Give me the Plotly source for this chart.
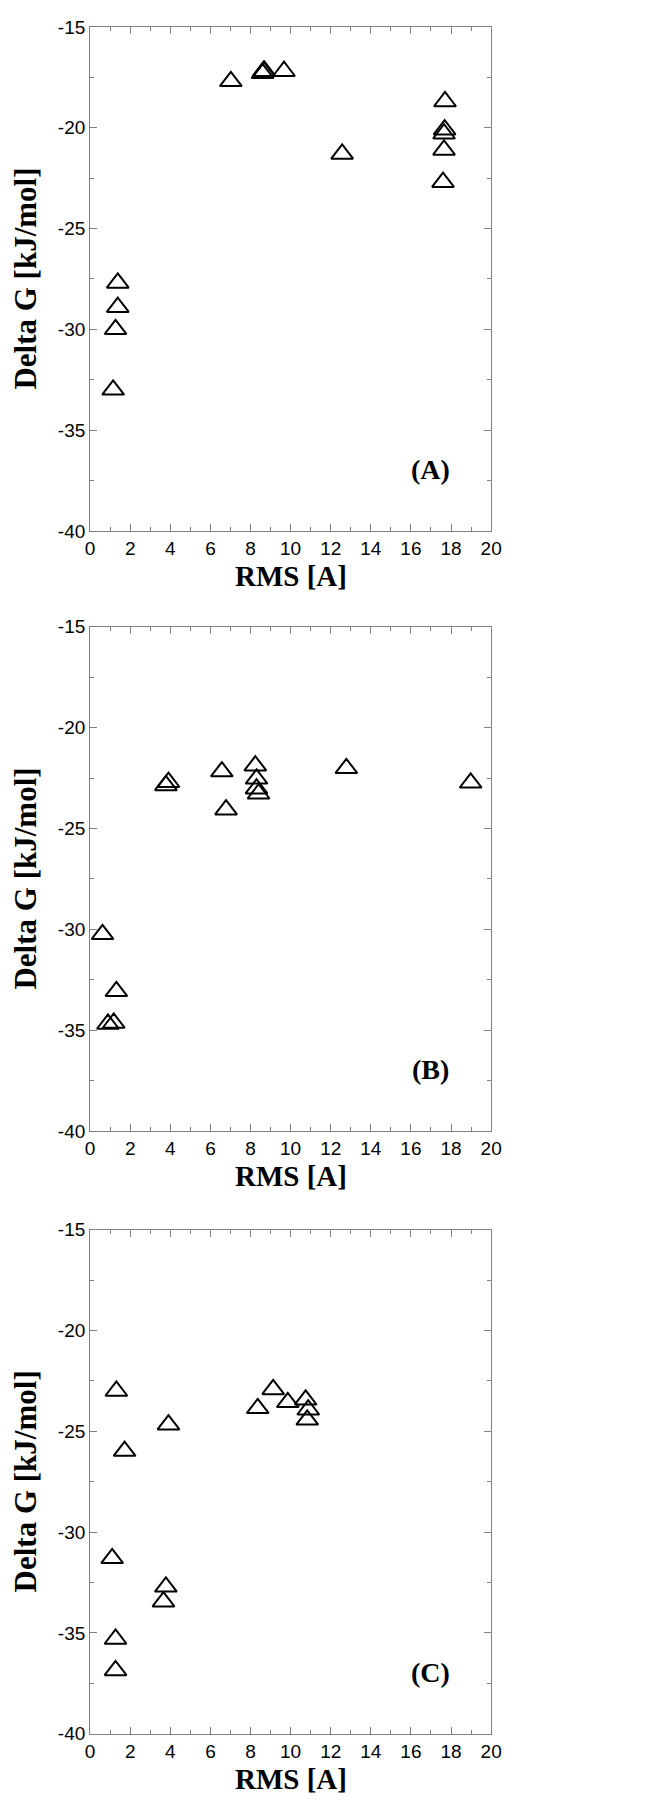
import plotly.graph_objects as go

# Panel data: RMS [A] vs Delta G [kJ/mol]
rms_a = [1.15, 1.27, 1.38, 1.38, 7.02, 8.6, 8.65, 8.7, 9.67, 12.57, 17.6, 17.65, 17.65, 17.68, 17.7]
dg_a = [-33.0, -30.0, -28.9, -27.7, -17.7, -17.3, -17.2, -17.2, -17.2, -21.3, -22.7, -21.1, -20.3, -20.1, -18.7]

rms_b = [0.62, 0.89, 1.18, 1.31, 3.78, 3.91, 6.57, 6.78, 8.24, 8.3, 8.3, 8.4, 12.78, 18.98]
dg_b = [-30.25, -34.7, -34.65, -33.08, -22.87, -22.71, -22.18, -24.07, -21.89, -22.54, -23.03, -23.28, -22.02, -22.74]

rms_c = [1.10, 1.27, 1.27, 1.31, 1.72, 3.66, 3.78, 3.91, 8.36, 9.13, 9.86, 10.75, 10.88, 10.83]
dg_c = [-31.3, -35.3, -36.86, -23.0, -25.98, -33.45, -32.71, -24.67, -23.86, -22.92, -23.56, -23.44, -23.93, -24.43]

x_ticks = [0, 2, 4, 6, 8, 10, 12, 14, 16, 18, 20]
y_ticks = [-40, -35, -30, -25, -20, -15]

panel_labels = ["(A)", "(B)", "(C)"]
x_title = "RMS [A]"
y_title = "Delta G [kJ/mol]"

W, H = 661, 1800
left, right = 79, 490
tops = [9, 616, 1226]
bottoms = [519, 1126, 1736]

fig = go.Figure()

panels = [(rms_a, dg_a), (rms_b, dg_b), (rms_c, dg_c)]
for i, (xs, ys) in enumerate(panels):
    n = "" if i == 0 else str(i + 1)
    fig.add_trace(go.Scatter(
        x=xs, y=ys, mode="markers", xaxis="x" + n, yaxis="y" + n,
        marker=dict(symbol="triangle-up-open", size=19, color="black",
                    line=dict(width=2, color="black")),
        showlegend=False, hoverinfo="x+y"))

axis_common = dict(
    showgrid=False, zeroline=False, showline=True, linecolor="#808080", linewidth=1,
    mirror="ticks", ticks="inside", ticklen=7, tickwidth=1, tickcolor="#808080",
    tickfont=dict(family="Liberation Sans, Arial, sans-serif", size=19, color="black"),
)

layout = dict(width=W, height=H, margin=dict(l=0, r=0, t=0, b=0),
              paper_bgcolor="white", plot_bgcolor="white", annotations=[])

for i in range(3):
    n = "" if i == 0 else str(i + 1)
    y0 = 1 - bottoms[i] / H
    y1 = 1 - tops[i] / H
    layout["xaxis" + n] = dict(
        axis_common, domain=[left / W, right / W], range=[0, 20],
        tickmode="array", tickvals=x_ticks, ticktext=[str(v) for v in x_ticks],
        anchor="y" + n,
        minor=dict(ticks="inside", dtick=1, ticklen=4, tickcolor="#808080"))
    layout["yaxis" + n] = dict(
        axis_common, domain=[y0, y1], range=[-40, -15],
        tickmode="array", tickvals=y_ticks, ticktext=[str(v) for v in y_ticks],
        anchor="x" + n,
        minor=dict(ticks="inside", tick0=-40, dtick=2.5, ticklen=4, tickcolor="#808080"))

    # x title
    layout["annotations"].append(dict(
        text="<b>" + x_title + "</b>", xref="paper", yref="paper",
        x=(left + right) / 2 / W, y=1 - (bottoms[i] + 46) / H,
        showarrow=False, xanchor="center", yanchor="middle",
        font=dict(family="Liberation Serif, Times New Roman, serif", size=29, color="black")))
    # y title
    layout["annotations"].append(dict(
        text="<b>" + y_title + "</b>", xref="paper", yref="paper",
        x=13 / W, y=1 - (tops[i] + bottoms[i]) / 2 / H, textangle=-90,
        showarrow=False, xanchor="center", yanchor="middle",
        font=dict(family="Liberation Serif, Times New Roman, serif", size=31, color="black")))
    # panel label
    layout["annotations"].append(dict(
        text="<b>" + panel_labels[i] + "</b>", xref="x" + n, yref="y" + n,
        x=17.0, y=-36.95, showarrow=False, xanchor="center", yanchor="middle",
        font=dict(family="Liberation Serif, Times New Roman, serif", size=28, color="black")))

fig.update_layout(**layout)

fig.write_html("out.html")
